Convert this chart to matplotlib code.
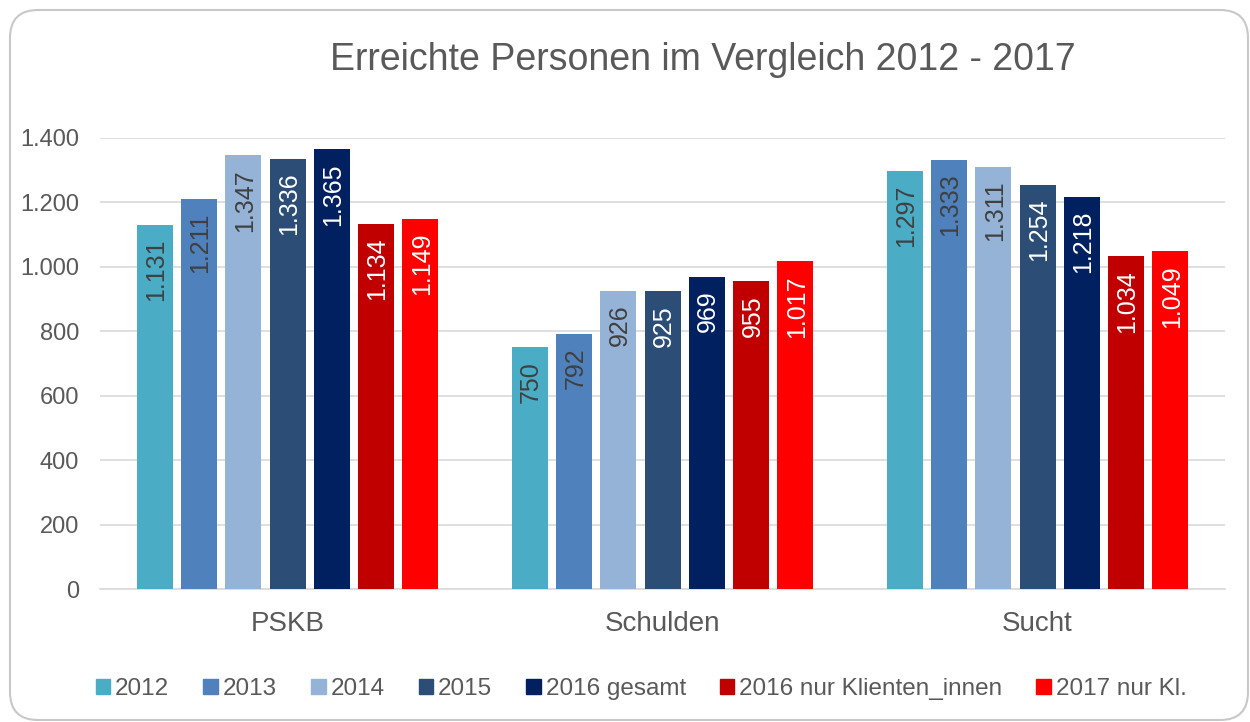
import numpy as np
import matplotlib.pyplot as plt
from matplotlib.patches import FancyBboxPatch, Patch

plt.rcParams['font.family'] = ['Liberation Sans', 'DejaVu Sans']

# Daten
categories = ['PSKB', 'Schulden', 'Sucht']
series = ['2012', '2013', '2014', '2015', '2016 gesamt',
          '2016 nur Klienten_innen', '2017 nur Kl.']
values = [
    [1131, 750, 1297],
    [1211, 792, 1333],
    [1347, 926, 1311],
    [1336, 925, 1254],
    [1365, 969, 1218],
    [1134, 955, 1034],
    [1149, 1017, 1049],
]
colors = ['#4BACC6', '#4F81BD', '#95B3D7', '#2C4D75', '#002060', '#C00000', '#FF0000']
label_colors = ['#404040', '#404040', '#404040', 'white', 'white', 'white', 'white']
GRAY = '#595959'

fig = plt.figure(figsize=(12.5, 7.22), dpi=100)

# Rahmen mit runden Ecken (in Zoll)
frame = FancyBboxPatch((0.10, 0.02), 12.38, 7.10,
                       boxstyle='round,pad=0,rounding_size=0.28',
                       transform=fig.dpi_scale_trans, facecolor='white',
                       edgecolor='#C8C8C8', linewidth=1.5, zorder=-1)
fig.patches.append(frame)

ax = fig.add_axes([100 / 1250, 1 - 589 / 722, 1125 / 1250, (589 - 138) / 722])
ax.set_facecolor('none')

x = np.arange(len(categories))
step = 0.118
width = 0.096

for i, name in enumerate(series):
    pos = x + (i - 3) * step
    bars = ax.bar(pos, values[i], width=width, color=colors[i], label=name, zorder=3)
    for b, v in zip(bars, values[i]):
        txt = f'{v:,}'.replace(',', '.')
        ax.annotate(txt, (b.get_x() + b.get_width() / 2, v), xytext=(1, -10),
                    textcoords='offset points', rotation=90, ha='center', va='top',
                    fontsize=18, color=label_colors[i], zorder=4)

ax.set_xlim(-0.5, 2.5)
ax.set_ylim(0, 1400)
ax.set_yticks(range(0, 1401, 200))
ax.set_yticklabels([f'{t:,}'.replace(',', '.') for t in range(0, 1401, 200)])
ax.set_xticks(x)
ax.set_xticklabels(categories)
ax.grid(axis='y', color='#D9D9D9', linewidth=1.2, zorder=0)
ax.tick_params(axis='y', length=0, labelsize=17, colors=GRAY, pad=15)
ax.tick_params(axis='x', length=0, labelsize=20, colors=GRAY, pad=16)
for s in ['top', 'right', 'left']:
    ax.spines[s].set_visible(False)
ax.spines['bottom'].set_color('#D9D9D9')
ax.spines['bottom'].set_linewidth(1.2)

fig.text(0.562, 1 - 60 / 722, 'Erreichte Personen im Vergleich 2012 - 2017',
         ha='center', va='center', fontsize=27, color=GRAY)

handles = [Patch(color=c) for c in colors]
fig.legend(handles, series, loc='center', bbox_to_anchor=(0.513, 1 - 689 / 722),
           ncol=7, frameon=False, fontsize=17.5, handlelength=0.6, handleheight=0.6,
           handletextpad=0.2, columnspacing=1.4, labelcolor=GRAY)

plt.savefig('out.png', dpi=100)
